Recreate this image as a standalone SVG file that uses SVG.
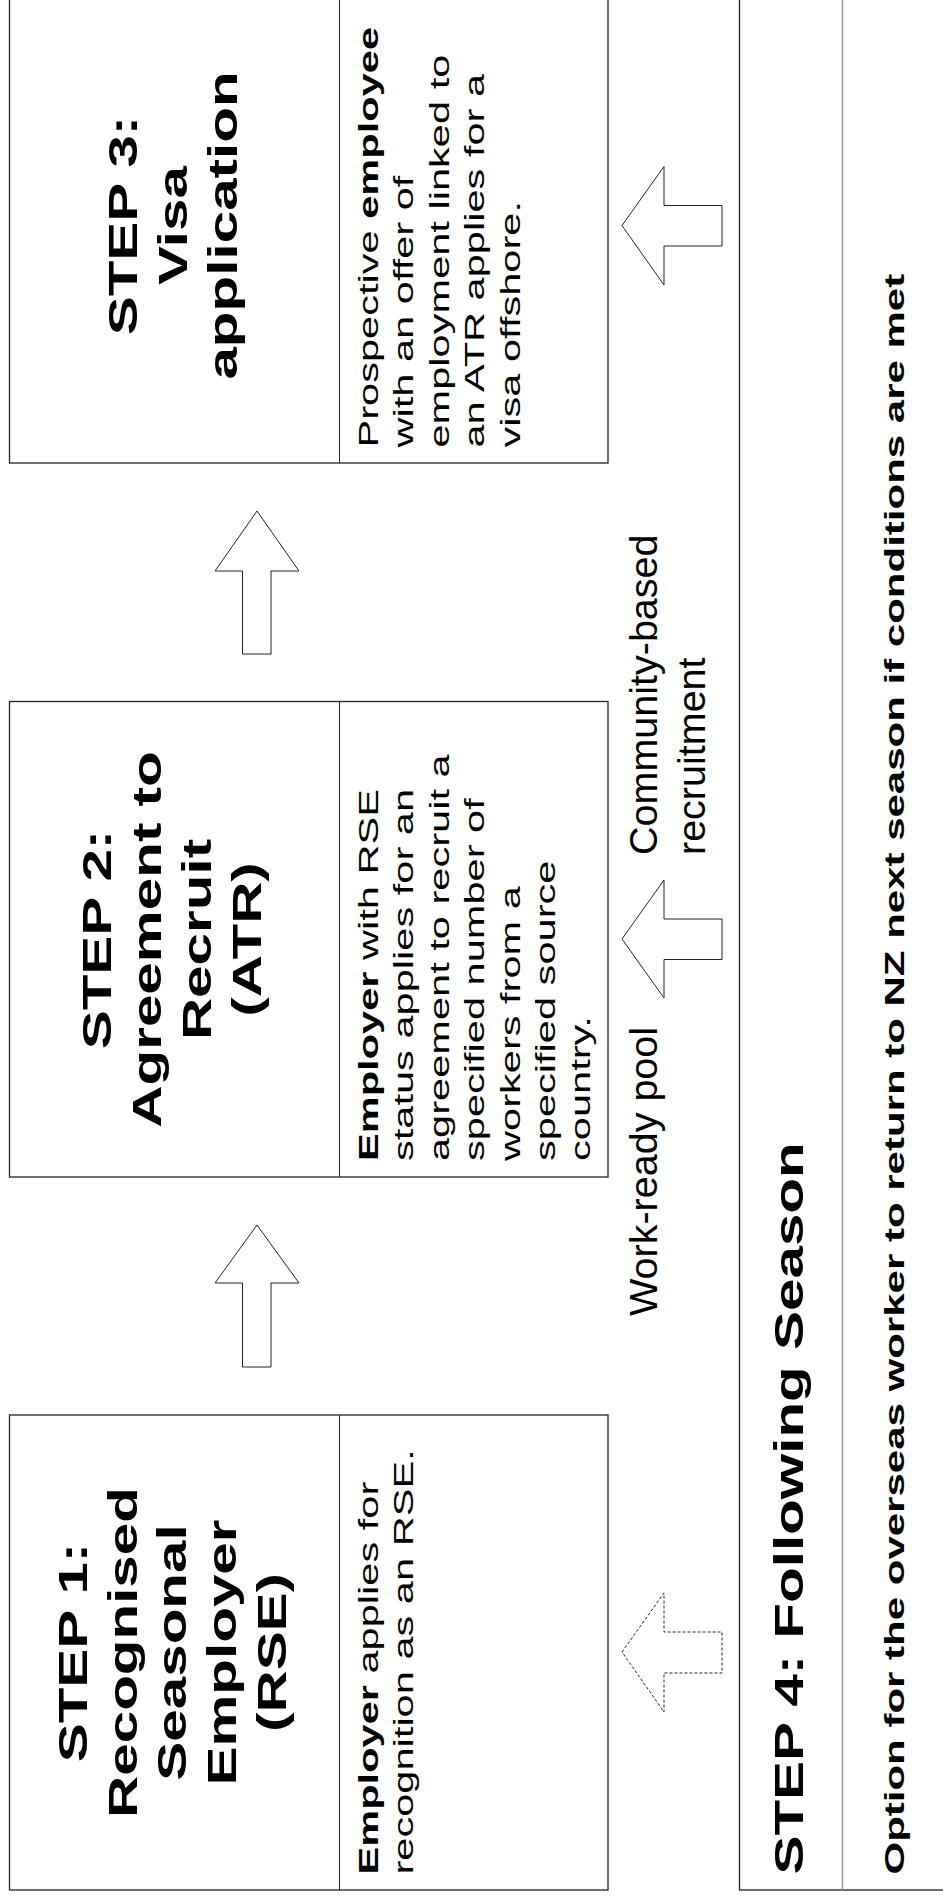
<svg xmlns="http://www.w3.org/2000/svg" width="943" height="1901" viewBox="0 0 943 1901">
<style>
.box{fill:#fff;stroke:#222;stroke-width:1.3}
.div{stroke:#222;stroke-width:1}
.div2{stroke:#999;stroke-width:1.5}
.t{font-family:"Liberation Sans",Arial,sans-serif;fill:#000}
.title{font-size:40px;font-weight:bold;text-anchor:middle}
.title4{font-size:40px;font-weight:bold}
.body{font-size:28px}
.b{font-weight:bold}
.lbl{font-size:39.5px}
.arrow{fill:#fff;stroke:#222;stroke-width:1}
.dash{fill:#fff;stroke:#222;stroke-width:1;stroke-dasharray:3 2}
</style>
<rect width="943" height="1901" fill="#fff"/>

<g id="step1">
<rect class="box" x="9.5" y="1415" width="598.5" height="475"/>
<line class="div" x1="339.5" y1="1415" x2="339.5" y2="1890"/>
<g class="t title" transform="translate(0,1652.5) rotate(-90) scale(1.46,1)">
<text x="0" y="87">STEP 1:</text>
<text x="0" y="137">Recognised</text>
<text x="0" y="186.5">Seasonal</text>
<text x="0" y="236">Employer</text>
<text x="0" y="286">(RSE)</text>
</g>
<g class="t body" transform="translate(0,1874.5) rotate(-90) scale(1.485,1)">
<text x="0" y="378"><tspan class="b">Employer</tspan> applies for</text>
<text x="0" y="413.4">recognition as an RSE.</text>
</g>
</g>

<g id="step2">
<rect class="box" x="9.5" y="701.5" width="598.5" height="475.5"/>
<line class="div" x1="339.5" y1="701.5" x2="339.5" y2="1177"/>
<g class="t title" transform="translate(0,939.5) rotate(-90) scale(1.46,1)">
<text x="0" y="111">STEP 2:</text>
<text x="0" y="161">Agreement to</text>
<text x="0" y="211">Recruit</text>
<text x="0" y="261">(ATR)</text>
</g>
<g class="t body" transform="translate(0,1161) rotate(-90) scale(1.485,1)">
<text x="0" y="378"><tspan class="b">Employer</tspan> with RSE</text>
<text x="0" y="413.4">status applies for an</text>
<text x="0" y="448.8">agreement to recruit a</text>
<text x="0" y="484.2">specified number of</text>
<text x="0" y="519.6">workers from a</text>
<text x="0" y="555">specified source</text>
<text x="0" y="590.4">country.</text>
</g>
</g>

<g id="step3">
<rect class="box" x="9.5" y="-12" width="598.5" height="475"/>
<line class="div" x1="339.5" y1="-12" x2="339.5" y2="463"/>
<g class="t title" transform="translate(0,225.5) rotate(-90) scale(1.46,1)">
<text x="0" y="137">STEP 3:</text>
<text x="0" y="187">Visa</text>
<text x="0" y="237">application</text>
</g>
<g class="t body" transform="translate(0,447.5) rotate(-90) scale(1.485,1)">
<text x="0" y="378">Prospective <tspan class="b">employee</tspan></text>
<text x="0" y="413.4">with an offer of</text>
<text x="0" y="448.8">employment linked to</text>
<text x="0" y="484.2">an ATR applies for a</text>
<text x="0" y="519.6">visa offshore.</text>
</g>
</g>

<g id="step4">
<rect class="box" x="739.5" y="-20" width="230" height="1910"/>
<line class="div2" x1="842.5" y1="-20" x2="842.5" y2="1890"/>
<g class="t title4" transform="translate(0,1874.5) rotate(-90) scale(1.46,1)">
<text x="0" y="803">STEP 4: Following Season</text>
</g>
<g class="t body b" transform="translate(0,1874.5) rotate(-90) scale(1.5,1)">
<text x="0" y="904.5">Option for the overseas worker to return to NZ next season if conditions are met</text>
</g>
</g>

<g id="label-workready" class="t lbl" transform="translate(0,1316) rotate(-90)">
<text x="0" y="657">Work-ready pool</text>
</g>

<g id="label-community" class="t lbl" transform="translate(0,855) rotate(-90)">
<text x="0" y="657">Community-based</text>
<text x="0" y="705">recruitment</text>
</g>

<g id="connectors">
<polygon class="arrow" points="257,1225 299,1283 271,1283 271,1367 242.5,1367 242.5,1283 215,1283"/>
<polygon class="arrow" points="257,511 299,571 271,571 271,654 242.5,654 242.5,571 215,571"/>
<polygon class="arrow" points="622,225.5 664,166.5 664,205.5 722,205.5 722,246 664,246 664,285"/>
<polygon class="arrow" points="622,939 664,880 664,919 722,919 722,959.5 664,959.5 664,998"/>
<polygon class="dash" points="622,1652 664,1593 664,1632 722,1632 722,1673 664,1673 664,1712"/>
</g>
</svg>
